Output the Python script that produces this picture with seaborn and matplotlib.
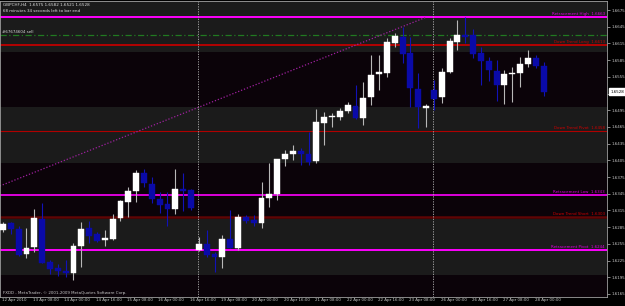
import matplotlib
matplotlib.use("Agg")
import matplotlib.pyplot as plt
import matplotlib.transforms as mtransforms
import numpy as np
import pandas as pd
import seaborn as sns

# ---------------- data (GBPCHF H4) ----------------
opens = [1.6280, 1.6292, 1.6282, 1.6237, 1.6249, 1.6300, 1.6222, 1.6212, 1.6206, 1.6203,
         1.6251, 1.6284, 1.6273, 1.6262, 1.6264, 1.6302, 1.6330, 1.6350, 1.6382, 1.6363,
         1.6336, 1.6327, 1.6318, 1.6354, 1.6352, 1.6244, 1.6255, 1.6237, 1.6231, 1.6264,
         1.6248, 1.6303, 1.6298, 1.6293, 1.6337, 1.6345, 1.6407, 1.6416, 1.6421, 1.6416,
         1.6404, 1.6472, 1.6483, 1.6483, 1.6494, 1.6503, 1.6481, 1.6519, 1.6560, 1.6562,
         1.6616, 1.6627, 1.6598, 1.6533, 1.6499, 1.6531, 1.6519, 1.6564, 1.6618, 1.6630,
         1.6630, 1.6598, 1.6583, 1.6565, 1.6540, 1.6560, 1.6562, 1.6578, 1.6589, 1.6575]
highs = [1.6294, 1.6294, 1.6287, 1.6284, 1.6318, 1.6328, 1.6226, 1.6219, 1.6226, 1.6257,
         1.6294, 1.6296, 1.6276, 1.6280, 1.6309, 1.6334, 1.6357, 1.6388, 1.6389, 1.6375,
         1.6348, 1.6348, 1.6389, 1.6382, 1.6354, 1.6267, 1.6280, 1.6240, 1.6271, 1.6316,
         1.6309, 1.6307, 1.6307, 1.6366, 1.6400, 1.6408, 1.6423, 1.6432, 1.6427, 1.6456,
         1.6497, 1.6492, 1.6490, 1.6499, 1.6510, 1.6540, 1.6546, 1.6594, 1.6594, 1.6625,
         1.6634, 1.6645, 1.6627, 1.6562, 1.6506, 1.6549, 1.6571, 1.6625, 1.6657, 1.6662,
         1.6641, 1.6609, 1.6591, 1.6585, 1.6567, 1.6573, 1.6591, 1.6603, 1.6594, 1.6582]
lows = [1.6276, 1.6273, 1.6233, 1.6230, 1.6240, 1.6220, 1.6201, 1.6197, 1.6195, 1.6190,
        1.6213, 1.6257, 1.6258, 1.6251, 1.6262, 1.6296, 1.6303, 1.6330, 1.6357, 1.6328,
        1.6310, 1.6287, 1.6309, 1.6314, 1.6316, 1.6242, 1.6231, 1.6204, 1.6212, 1.6248,
        1.6244, 1.6293, 1.6287, 1.6284, 1.6321, 1.6334, 1.6395, 1.6406, 1.6397, 1.6397,
        1.6400, 1.6433, 1.6465, 1.6477, 1.6490, 1.6480, 1.6468, 1.6504, 1.6531, 1.6555,
        1.6609, 1.6580, 1.6501, 1.6463, 1.6465, 1.6495, 1.6508, 1.6562, 1.6603, 1.6616,
        1.6589, 1.6540, 1.6547, 1.6511, 1.6506, 1.6510, 1.6537, 1.6573, 1.6571, 1.6521]
closes = [1.6291, 1.6282, 1.6235, 1.6248, 1.6302, 1.6221, 1.6210, 1.6206, 1.6203, 1.6251,
          1.6282, 1.6269, 1.6260, 1.6266, 1.6300, 1.6332, 1.6350, 1.6382, 1.6364, 1.6336,
          1.6325, 1.6318, 1.6354, 1.6350, 1.6320, 1.6255, 1.6235, 1.6231, 1.6264, 1.6248,
          1.6303, 1.6296, 1.6293, 1.6337, 1.6345, 1.6407, 1.6416, 1.6421, 1.6416, 1.6402,
          1.6474, 1.6483, 1.6485, 1.6494, 1.6504, 1.6481, 1.6517, 1.6558, 1.6564, 1.6618,
          1.6628, 1.6596, 1.6535, 1.6501, 1.6503, 1.6515, 1.6564, 1.6619, 1.6630, 1.6627,
          1.6596, 1.6583, 1.6567, 1.6540, 1.6560, 1.6562, 1.6578, 1.6589, 1.6575, 1.6528]

# x-axis time labels (bar index of the label, text)
time_label_idx = [-1, 3, 7, 11, 15, 19, 23, 27, 31, 35, 39, 43, 47, 51, 55, 59, 63, 67]
time_labels = ["12 Apr 2010", "13 Apr 08:00", "14 Apr 00:00", "14 Apr 16:00", "15 Apr 08:00",
               "16 Apr 00:00", "16 Apr 16:00", "19 Apr 08:00", "20 Apr 00:00", "20 Apr 16:00",
               "21 Apr 08:00", "22 Apr 00:00", "22 Apr 16:00", "23 Apr 08:00", "26 Apr 00:00",
               "26 Apr 16:00", "27 Apr 08:00", "28 Apr 00:00"]
week_separators = [25, 55]

price_ticks = [1.6165, 1.6195, 1.6225, 1.6255, 1.6285, 1.6315, 1.6345, 1.6375, 1.6405,
               1.6435, 1.6465, 1.6495, 1.6525, 1.6555, 1.6585, 1.6615, 1.6645, 1.6675]
price_tick_labels = ["1.6165", "1.6195", "1.6225", "1.6255", "1.6285", "1.6315", "1.6345",
                     "1.6375", "1.6405", "1.6435", "1.6465", "1.6495", "", "1.6555",
                     "1.6585", "1.6615", "1.6645", "1.6675"]

level_names = ["Retracement High", "Down Trend Long", "Down Trend Pivot",
               "Retracement Low", "Down Trend Short", "Retracement Pivot"]
level_values = [1.6663, 1.6613, 1.6458, 1.6343, 1.6303, 1.6244]
order_price = 1.6630
order_label = "#67674604 sell"

band_low = [1.6200, 1.6400, 1.6600]
band_high = [1.6300, 1.6500, 1.6700]

trend_idx = [-0.4, 54.0]
trend_price = [1.6359, 1.6662]

header1 = "GBPCHF,H4  1.6575 1.6582 1.6521 1.6528"
header2 = "68 minutes 34 seconds left to bar end"
footer = "FXDD - MetaTrader, \u00a9 2001-2009 MetaQuotes Software Corp."
last_price_label = "1.6528"

# ---------------- style ----------------
sns.set_theme(style="dark", rc={"axes.facecolor": "#0b0309",
                                "figure.facecolor": "#000000"})
plt.rcParams["font.family"] = ["DejaVu Sans"]

W, H = 625, 306
fig = plt.figure(figsize=(W / 100, H / 100), dpi=100)
fig.patch.set_facecolor("#000000")
ax = fig.add_axes([0.0, 1 - 297 / H, 607 / W, 296 / H])
ax.set_facecolor("#0b0309")

df = pd.DataFrame({"open": opens, "high": highs, "low": lows, "close": closes})
df["idx"] = np.arange(len(df))
df["bull"] = df["close"] >= df["open"]

# background bands
for lo, hi in zip(band_low, band_high):
    ax.axhspan(lo, hi, color="#1b1b1b", lw=0, zorder=0)

# level lines
level_colors = ["#ff00ff", "#c00000", "#b00000", "#ff00ff", "#5e0505", "#ff00ff"]
level_widths = [1.4, 1.3, 0.8, 1.2, 1.8, 1.4]
text_colors = ["#e000e0", "#d00000", "#d00000", "#e000e0", "#d00000", "#e000e0"]
ytrans = mtransforms.blended_transform_factory(ax.transAxes, ax.transData)
for name, val, c, lw, tc in zip(level_names, level_values, level_colors, level_widths, text_colors):
    ax.axhline(val, color=c, lw=lw, zorder=1)
    ax.text(0.9965, val + 0.00012, f"{name}  {val:.4f}", transform=ytrans,
            ha="right", va="bottom", fontsize=2.9, color=tc, zorder=5)

ax.axhline(order_price, color="#217a21", lw=0.9, ls=(0, (5, 2, 1, 2)), zorder=1)
ax.text(0.004, order_price + 0.00012, order_label, transform=ytrans, ha="left",
        va="bottom", fontsize=2.9, color="#d8d8d8", zorder=5)

# trend line
sns.lineplot(x=trend_idx, y=trend_price, ax=ax, color="#a020a0", lw=0.9,
             linestyle=(0, (1, 1.5)), zorder=2)

# week separators
for s in week_separators:
    ax.axvline(s - 0.1, color="#b0b0b0", lw=0.6, ls=(0, (1.5, 1.5)), zorder=2)

# candles
bull_col, bear_col = "#ffffff", "#0a0aa8"
bull = df[df["bull"]]
bear = df[~df["bull"]]
ax.vlines(bull["idx"], bull["low"], bull["high"], color="#b8b8b8", lw=0.8, zorder=3)
ax.vlines(bear["idx"], bear["low"], bear["high"], color="#1212b8", lw=0.8, zorder=3)
ax.bar(bull["idx"], (bull["close"] - bull["open"]).clip(lower=0.00004), bottom=bull["open"],
       width=0.76, color=bull_col, edgecolor=bull_col, lw=0.3, zorder=4)
ax.bar(bear["idx"], (bear["open"] - bear["close"]).clip(lower=0.00004), bottom=bear["close"],
       width=0.76, color=bear_col, edgecolor=bear_col, lw=0.3, zorder=4)

# axes
ax.set_xlim(-0.38, 77.1)
ax.set_ylim(1.61596, 1.66912)
ax.set_xticks([])
ax.yaxis.tick_right()
ax.set_yticks(price_ticks)
ax.set_yticklabels(price_tick_labels)
ax.tick_params(axis="y", colors="#c0c0c0", labelcolor="#c8c8c8", length=2, width=0.5,
               pad=1.5, labelsize=2.9, right=True, left=False)
ax.grid(False)
for sp in ax.spines.values():
    sp.set_visible(True)
    sp.set_color("#a0a0a0")
    sp.set_linewidth(0.6)
ax.set_xlabel("")
ax.set_ylabel("")

# current price box
ax.text(1.006, closes[-1], last_price_label, transform=ytrans, ha="left", va="center",
        fontsize=2.9, color="#000000", zorder=6, clip_on=False,
        bbox=dict(boxstyle="square,pad=0.35", facecolor="#ffffff", edgecolor="#ffffff"))

# time labels
xtrans = mtransforms.blended_transform_factory(ax.transData, fig.transFigure)
for i, t in zip(time_label_idx, time_labels):
    ax.text(i + 0.85, 1 - 300.5 / H, t, transform=xtrans, ha="left", va="center",
            fontsize=2.9, color="#c8c8c8", clip_on=False)

# header / footer texts
fig.text(3 / W, 1 - 5 / H, header1, ha="left", va="center", fontsize=3.0, color="#e0e0e0")
fig.text(3 / W, 1 - 10.5 / H, header2, ha="left", va="center", fontsize=2.9, color="#e0e0e0")
fig.text(3 / W, 1 - 293 / H, footer, ha="left", va="center", fontsize=2.9, color="#c8c8c8")

fig.savefig("out.png", dpi=100, facecolor=fig.get_facecolor())
